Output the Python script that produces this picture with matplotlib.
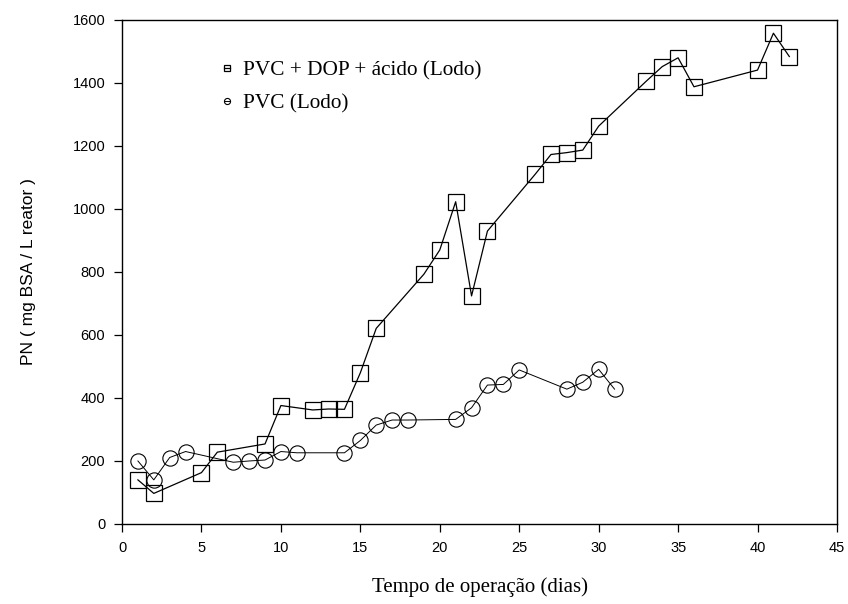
import matplotlib.pyplot as plt

# PN ao longo do tempo de operacao
dias_dop = [1, 2, 5, 6, 9, 10, 12, 13, 14, 15, 16, 19, 20, 21, 22, 23,
            26, 27, 28, 29, 30, 33, 34, 35, 36, 40, 41, 42]
pn_dop = [140, 97, 163, 228, 254, 376, 362, 365, 364, 480, 621, 793, 870,
          1023, 724, 930, 1110, 1173, 1179, 1187, 1263, 1406, 1452, 1480,
          1388, 1441, 1558, 1484]

dias_pvc = [1, 2, 3, 4, 7, 8, 9, 10, 11, 14, 15, 16, 17, 18, 21, 22, 23,
            24, 25, 28, 29, 30, 31]
pn_pvc = [200, 140, 211, 230, 196, 200, 203, 230, 226, 226, 265, 314, 330,
          330, 332, 369, 441, 443, 489, 428, 450, 491, 428]

sans = ['Liberation Sans', 'DejaVu Sans']
serif = ['Liberation Serif', 'DejaVu Serif']

fig = plt.figure(figsize=(8.48, 6.04), dpi=100)
ax = fig.add_axes([0.1439, 0.1325, 0.8431, 0.8344])

ax.plot(dias_dop, pn_dop, color='black', lw=0.9, marker='s', ms=11.5,
        mfc='none', mec='black', mew=0.9, label='PVC + DOP + ácido (Lodo)')
ax.plot(dias_pvc, pn_pvc, color='black', lw=0.7, marker='o', ms=11,
        mfc='none', mec='black', mew=0.8, label='PVC (Lodo)')

ax.set_xlim(0, 45)
ax.set_ylim(0, 1600)
ax.set_xticks(range(0, 46, 5))
ax.set_yticks(range(0, 1601, 200))
ax.tick_params(direction='out', length=6, width=0.9, labelsize=10.5, pad=6)
for lbl in ax.get_xticklabels() + ax.get_yticklabels():
    lbl.set_family(sans)
for sp in ax.spines.values():
    sp.set_linewidth(1.0)

ax.set_xlabel('Tempo de operação (dias)', family=serif, fontsize=15, labelpad=16)
ax.set_ylabel('PN ( mg BSA / L reator )', family=sans, fontsize=12.5, labelpad=26)

leg = ax.legend(loc='upper left', bbox_to_anchor=(0.116, 0.957), frameon=False,
                handlelength=0.3, handletextpad=0.6, markerscale=0.4,
                labelspacing=0.6, prop={'family': serif, 'size': 15.3})

fig.savefig('out.png', dpi=100)
